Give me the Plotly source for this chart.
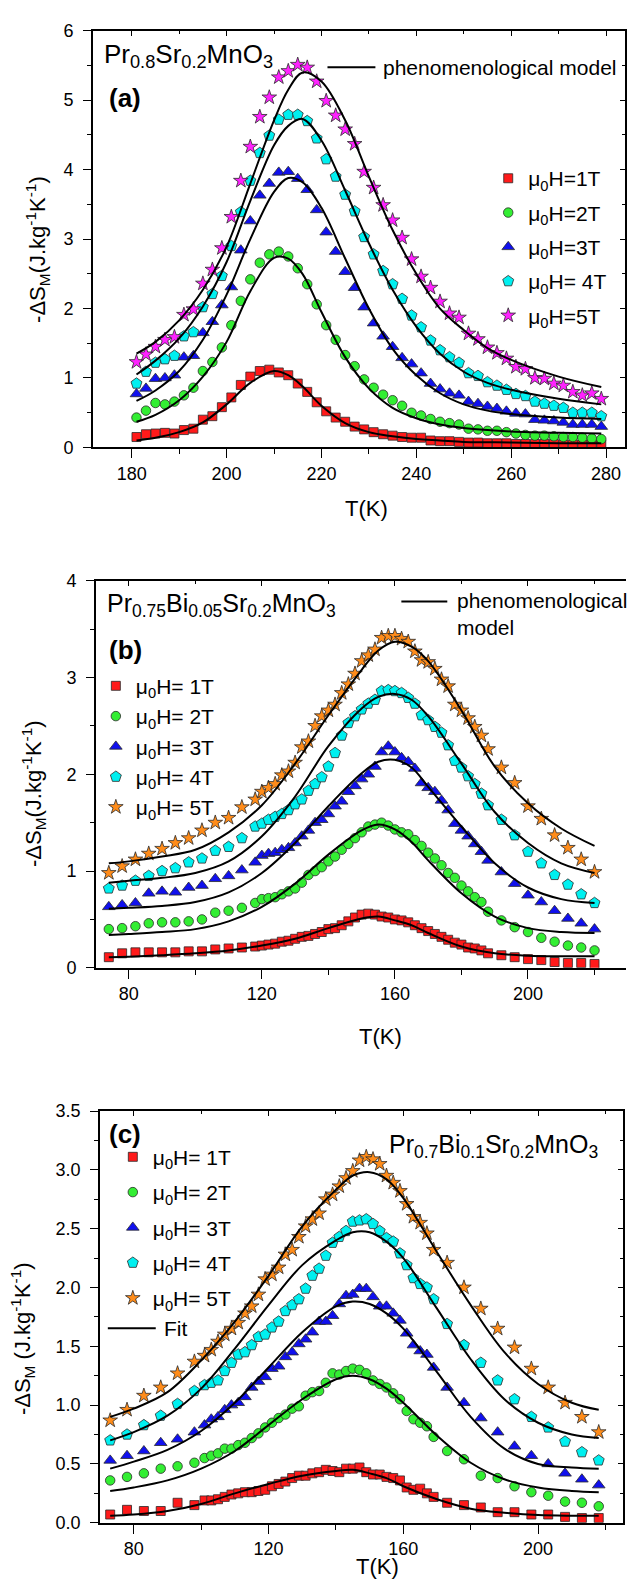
import plotly.graph_objects as go

W, H = 627, 1593
FONT = "Liberation Sans, Arial, sans-serif"

# ---------------- (a) Pr0.8Sr0.2MnO3 ----------------
a_T = [181, 183, 185, 187, 189, 191, 193, 195, 197, 199,
       201, 203, 205, 207, 209, 211, 213, 215, 217, 219,
       221, 223, 225, 227, 229, 231, 233, 235, 237, 239,
       241, 243, 245, 247, 249, 251, 253, 255, 257, 259,
       261, 263, 265, 267, 269, 271, 273, 275, 277, 279]
a_1T = [0.15, 0.19, 0.20, 0.21, 0.20, 0.25, 0.27, 0.40, 0.45, 0.58,
        0.72, 0.90, 1.02, 1.10, 1.12, 1.08, 1.04, 0.92, 0.80, 0.65,
        0.52, 0.43, 0.37, 0.30, 0.26, 0.22, 0.19, 0.17, 0.15, 0.14,
        0.14, 0.10, 0.09, 0.09, 0.08, 0.07, 0.07, 0.06, 0.06, 0.06,
        0.05, 0.05, 0.05, 0.05, 0.05, 0.04, 0.04, 0.04, 0.04, 0.04]
a_2T = [0.43, 0.53, 0.64, 0.62, 0.66, 0.75, 0.86, 1.10, 1.23, 1.44,
        1.76, 2.11, 2.42, 2.66, 2.78, 2.82, 2.75, 2.58, 2.35, 2.06,
        1.76, 1.55, 1.33, 1.17, 0.98, 0.86, 0.76, 0.68, 0.60, 0.50,
        0.46, 0.41, 0.37, 0.35, 0.33, 0.27, 0.26, 0.24, 0.24, 0.22,
        0.20, 0.18, 0.17, 0.17, 0.16, 0.15, 0.15, 0.14, 0.13, 0.12]
a_3T = [0.77, 0.85, 0.99, 1.00, 1.04, 1.30, 1.32, 1.65, 1.81, 2.05,
        2.31, 2.84, 3.26, 3.63, 3.80, 3.96, 3.97, 3.87, 3.71, 3.42,
        3.10, 2.82, 2.53, 2.30, 2.02, 1.79, 1.60, 1.45, 1.29, 1.20,
        1.07, 0.92, 0.84, 0.78, 0.75, 0.66, 0.63, 0.59, 0.56, 0.52,
        0.49, 0.48, 0.40, 0.39, 0.38, 0.36, 0.33, 0.33, 0.33, 0.30]
a_4T = [0.92, 1.09, 1.22, 1.27, 1.32, 1.60, 1.66, 2.02, 2.21, 2.47,
        2.90, 3.39, 3.84, 4.24, 4.49, 4.72, 4.79, 4.79, 4.70, 4.45,
        4.15, 3.90, 3.64, 3.40, 3.03, 2.78, 2.54, 2.35, 2.14, 1.90,
        1.73, 1.54, 1.40, 1.30, 1.22, 1.07, 1.03, 0.94, 0.89, 0.83,
        0.77, 0.74, 0.66, 0.63, 0.60, 0.57, 0.50, 0.50, 0.50, 0.45]
a_5T = [1.23, 1.34, 1.45, 1.55, 1.59, 1.91, 1.99, 2.36, 2.56, 2.87,
        3.32, 3.84, 4.33, 4.76, 5.04, 5.33, 5.42, 5.51, 5.47, 5.27,
        4.99, 4.78, 4.58, 4.37, 3.97, 3.74, 3.49, 3.27, 3.02, 2.71,
        2.46, 2.30, 2.10, 1.93, 1.87, 1.64, 1.56, 1.44, 1.36, 1.28,
        1.16, 1.13, 1.00, 0.99, 0.92, 0.89, 0.80, 0.75, 0.78, 0.70]

# phenomenological-model curves for (a)
a_fit_T = [181, 185, 190, 195, 200, 205, 210, 213, 216, 220,
           225, 230, 235, 240, 245, 250, 255, 260, 270, 279]
a_fit_1T = [0.10, 0.14, 0.22, 0.36, 0.62, 0.93, 1.10, 1.04, 0.88, 0.60,
            0.35, 0.22, 0.16, 0.12, 0.10, 0.08, 0.075, 0.07, 0.06, 0.06]
a_fit_2T = [0.37, 0.47, 0.68, 1.02, 1.52, 2.25, 2.73, 2.72, 2.50, 1.95,
            1.30, 0.85, 0.57, 0.42, 0.33, 0.28, 0.25, 0.23, 0.21, 0.20]
a_fit_3T = [0.67, 0.82, 1.10, 1.55, 2.20, 3.00, 3.68, 3.88, 3.82, 3.45,
            2.72, 2.00, 1.42, 1.04, 0.78, 0.62, 0.53, 0.48, 0.43, 0.41]
a_fit_4T = [1.05, 1.25, 1.57, 2.03, 2.67, 3.55, 4.35, 4.63, 4.73, 4.42,
            3.70, 2.94, 2.27, 1.74, 1.35, 1.09, 0.93, 0.83, 0.70, 0.62]
a_fit_5T = [1.35, 1.52, 1.83, 2.27, 2.89, 3.80, 4.71, 5.15, 5.40, 5.27,
            4.71, 3.90, 3.13, 2.50, 2.00, 1.69, 1.43, 1.26, 1.02, 0.87]

# ---------------- (b) Pr0.75Bi0.05Sr0.2MnO3 ----------------
b_T = [74, 78, 82, 86, 90, 94, 98, 102, 106, 110, 114, 118,
       120, 122, 124, 126, 128, 130, 132, 134, 136, 138, 140, 142,
       144, 146, 148, 150, 152, 154, 156, 158, 160, 162, 164, 166,
       168, 170, 172, 174, 176, 178, 180, 182, 184, 186,
       188, 192, 196, 200, 204, 208, 212, 216, 220]
b_1T = [0.11, 0.15, 0.16, 0.16, 0.16, 0.16, 0.17, 0.17, 0.19, 0.20, 0.21, 0.22,
        0.23, 0.24, 0.25, 0.27, 0.28, 0.30, 0.32, 0.33, 0.35, 0.37, 0.40, 0.41,
        0.44, 0.48, 0.52, 0.55, 0.56, 0.55, 0.53, 0.52, 0.50, 0.49, 0.47, 0.44,
        0.41, 0.38, 0.35, 0.32, 0.29, 0.26, 0.24, 0.21, 0.20, 0.18,
        0.15, 0.13, 0.11, 0.09, 0.08, 0.06, 0.05, 0.05, 0.04]
b_2T = [0.40, 0.41, 0.43, 0.46, 0.47, 0.47, 0.48, 0.50, 0.57, 0.59, 0.62, 0.67,
        0.71, 0.72, 0.73, 0.76, 0.79, 0.82, 0.88, 0.96, 1.00, 1.04, 1.10, 1.15,
        1.22, 1.28, 1.34, 1.40, 1.46, 1.48, 1.50, 1.47, 1.43, 1.40, 1.38, 1.32,
        1.26, 1.19, 1.13, 1.06, 0.98, 0.93, 0.85, 0.79, 0.73, 0.68,
        0.58, 0.49, 0.42, 0.37, 0.31, 0.27, 0.23, 0.21, 0.18]
b_3T = [0.63, 0.65, 0.67, 0.77, 0.79, 0.78, 0.83, 0.85, 0.92, 0.95, 1.01, 1.09,
        1.16, 1.18, 1.19, 1.22, 1.24, 1.29, 1.36, 1.42, 1.50, 1.53, 1.59, 1.67,
        1.72, 1.82, 1.88, 1.95, 2.00, 2.08, 2.23, 2.29, 2.23, 2.17, 2.13, 2.06,
        1.91, 1.86, 1.82, 1.73, 1.63, 1.49, 1.42, 1.36, 1.28, 1.20,
        1.11, 0.99, 0.87, 0.75, 0.68, 0.59, 0.51, 0.46, 0.40]
b_4T = [0.82, 0.85, 0.90, 0.95, 1.00, 1.03, 1.09, 1.13, 1.21, 1.25, 1.34, 1.46,
        1.49, 1.53, 1.56, 1.59, 1.63, 1.69, 1.74, 1.83, 1.90, 1.97, 2.08, 2.22,
        2.40, 2.53, 2.60, 2.67, 2.73, 2.77, 2.86, 2.87, 2.86, 2.84, 2.79, 2.73,
        2.61, 2.56, 2.49, 2.43, 2.30, 2.14, 2.07, 1.98, 1.90, 1.80,
        1.68, 1.53, 1.37, 1.20, 1.08, 0.96, 0.86, 0.76, 0.67]
b_5T = [0.98, 1.05, 1.12, 1.18, 1.23, 1.29, 1.34, 1.42, 1.50, 1.55, 1.66, 1.74,
        1.82, 1.86, 1.90, 1.99, 2.03, 2.12, 2.28, 2.34, 2.50, 2.60, 2.66, 2.72,
        2.84, 2.93, 3.04, 3.17, 3.23, 3.29, 3.41, 3.43, 3.43, 3.40, 3.37, 3.27,
        3.18, 3.16, 3.09, 2.98, 2.91, 2.72, 2.66, 2.58, 2.49, 2.40,
        2.26, 2.07, 1.91, 1.67, 1.54, 1.37, 1.24, 1.12, 0.99]

b_fit_T = [74, 80, 90, 100, 110, 120, 130, 140, 150, 155,
           160, 165, 170, 180, 190, 200, 210, 220]
b_fit_1T = [0.11, 0.115, 0.13, 0.15, 0.18, 0.23, 0.30, 0.41, 0.51, 0.53,
            0.49, 0.44, 0.36, 0.22, 0.15, 0.125, 0.12, 0.12]
b_fit_2T = [0.34, 0.35, 0.37, 0.40, 0.48, 0.63, 0.87, 1.17, 1.42, 1.48,
            1.43, 1.30, 1.11, 0.77, 0.53, 0.41, 0.37, 0.36]
b_fit_3T = [0.61, 0.62, 0.64, 0.68, 0.78, 0.98, 1.29, 1.67, 2.01, 2.13,
            2.15, 2.07, 1.87, 1.46, 1.08, 0.83, 0.71, 0.67]
b_fit_4T = [0.88, 0.90, 0.93, 0.98, 1.10, 1.36, 1.77, 2.29, 2.68, 2.80,
            2.83, 2.77, 2.60, 2.11, 1.61, 1.29, 1.08, 0.98]
b_fit_5T = [1.08, 1.10, 1.15, 1.22, 1.40, 1.68, 2.11, 2.61, 3.08, 3.28,
            3.37, 3.32, 3.17, 2.66, 2.08, 1.70, 1.44, 1.26]

# ---------------- (c) Pr0.7Bi0.1Sr0.2MnO3 ----------------
c_T = [73, 78, 83, 88, 93, 98,
       101, 103, 105, 107, 109, 111, 113, 115, 117, 119, 121, 123, 125, 127,
       129, 131, 133, 135, 137, 139, 141, 143, 145, 147, 149, 151, 153, 155,
       157, 159, 161, 163, 165, 167, 169,
       173, 178, 183, 188, 193, 198, 203, 208, 213, 218]
c_1T = [0.07, 0.11, 0.10, 0.10, 0.17, 0.15,
        0.19, 0.19, 0.20, 0.22, 0.24, 0.25, 0.26, 0.26, 0.27, 0.28, 0.31, 0.33, 0.35, 0.38,
        0.40, 0.40, 0.42, 0.43, 0.45, 0.44, 0.43, 0.46, 0.46, 0.47, 0.43, 0.41, 0.41, 0.39,
        0.38, 0.36, 0.30, 0.28, 0.29, 0.25, 0.22,
        0.17, 0.15, 0.13, 0.09, 0.09, 0.07, 0.07, 0.05, 0.04, 0.04]
c_2T = [0.36, 0.39, 0.42, 0.46, 0.48, 0.51,
        0.55, 0.57, 0.59, 0.63, 0.63, 0.66, 0.68, 0.72, 0.76, 0.81, 0.85, 0.89, 0.92, 0.97,
        0.99, 1.08, 1.11, 1.12, 1.19, 1.27, 1.26, 1.29, 1.31, 1.30, 1.27, 1.21, 1.18, 1.15,
        1.10, 1.05, 0.95, 0.88, 0.85, 0.82, 0.73,
        0.61, 0.54, 0.40, 0.38, 0.31, 0.26, 0.23, 0.18, 0.17, 0.14]
c_3T = [0.53, 0.57, 0.61, 0.68, 0.71, 0.77,
        0.83, 0.88, 0.90, 0.96, 1.00, 1.02, 1.07, 1.15, 1.20, 1.24, 1.31, 1.33, 1.41, 1.45,
        1.52, 1.56, 1.62, 1.71, 1.71, 1.76, 1.86, 1.93, 1.94, 1.99, 1.99, 1.92, 1.84, 1.84,
        1.78, 1.72, 1.61, 1.51, 1.46, 1.43, 1.32,
        1.15, 1.02, 0.89, 0.77, 0.65, 0.57, 0.50, 0.42, 0.37, 0.32]
c_4T = [0.70, 0.75, 0.83, 0.91, 1.01, 1.12,
        1.17, 1.19, 1.21, 1.29, 1.36, 1.43, 1.45, 1.51, 1.58, 1.60, 1.66, 1.71, 1.80, 1.85,
        1.90, 1.99, 2.10, 2.16, 2.27, 2.38, 2.43, 2.48, 2.56, 2.57, 2.58, 2.54, 2.48, 2.42,
        2.39, 2.29, 2.19, 2.08, 2.03, 2.00, 1.90,
        1.69, 1.51, 1.36, 1.21, 1.05, 0.90, 0.81, 0.69, 0.60, 0.53]
c_5T = [0.87, 0.96, 1.08, 1.15, 1.27, 1.37,
        1.42, 1.47, 1.54, 1.60, 1.65, 1.70, 1.78, 1.84, 1.94, 2.07, 2.11, 2.17, 2.28, 2.32,
        2.43, 2.52, 2.58, 2.63, 2.75, 2.79, 2.86, 2.93, 2.99, 3.08, 3.11, 3.09, 3.05, 2.95,
        2.89, 2.82, 2.71, 2.60, 2.55, 2.46, 2.32,
        2.21, 2.00, 1.82, 1.65, 1.49, 1.31, 1.15, 1.02, 0.90, 0.77]

c_fit_T = [73, 80, 90, 100, 110, 120, 130, 140, 145, 150,
           155, 160, 170, 180, 190, 200, 210, 218]
c_fit_1T = [0.06, 0.07, 0.10, 0.16, 0.25, 0.33, 0.40, 0.44, 0.45, 0.42,
            0.38, 0.31, 0.20, 0.12, 0.085, 0.065, 0.06, 0.06]
c_fit_2T = [0.27, 0.30, 0.36, 0.46, 0.61, 0.83, 1.05, 1.22, 1.25, 1.22,
            1.14, 1.02, 0.74, 0.51, 0.37, 0.30, 0.27, 0.26]
c_fit_3T = [0.46, 0.52, 0.62, 0.78, 1.02, 1.32, 1.62, 1.84, 1.88, 1.86,
            1.78, 1.65, 1.28, 0.90, 0.63, 0.50, 0.47, 0.46]
c_fit_4T = [0.70, 0.77, 0.91, 1.14, 1.48, 1.85, 2.19, 2.40, 2.47, 2.47,
            2.39, 2.25, 1.82, 1.39, 1.05, 0.85, 0.75, 0.72]
c_fit_5T = [0.90, 0.97, 1.11, 1.38, 1.71, 2.10, 2.52, 2.83, 2.95, 2.98,
            2.92, 2.76, 2.30, 1.85, 1.45, 1.18, 1.02, 0.96]

# ---------------- styling ----------------
RED, GREEN, BLUE, CYAN = "#ff1a1a", "#33ee33", "#1010ee", "#00f0f0"
MAGENTA, ORANGE = "#ff22ff", "#ff8c1a"
EDGE = "#2a2a2a"

def px_x(p):
    return p / W

def px_y(p):
    return 1 - p / H

fig = go.Figure()

def add_markers(xs, ys, color, symbol, size, name, xa, ya, legend):
    fig.add_trace(go.Scatter(
        x=xs, y=ys, mode="markers", name=name, xaxis=xa, yaxis=ya,
        legend=legend, legendgroup=legend + name,
        marker=dict(color=color, symbol=symbol, size=size,
                    line=dict(color=EDGE, width=0.8)),
        hoverinfo="x+y"))

def add_fit(xs, ys, xa, ya):
    fig.add_trace(go.Scatter(
        x=xs, y=ys, mode="lines", xaxis=xa, yaxis=ya, showlegend=False,
        line=dict(color="black", width=2, shape="spline", smoothing=1.0),
        hoverinfo="skip"))

def lbl(n, gap=""):
    return "\u03bc<sub>0</sub>H=" + gap + str(n) + "T"

SQ, CI, TR, PE, ST = 9, 9.5, 11, 11.5, 11

# panel (a)
a_sets = [(a_1T, RED, "square", SQ, lbl(1)), (a_2T, GREEN, "circle", CI, lbl(2)),
          (a_3T, BLUE, "triangle-up", TR, lbl(3)), (a_4T, CYAN, "pentagon", PE, lbl(4, " ")),
          (a_5T, MAGENTA, "star", ST, lbl(5))]
for ys, col, sym, sz, nm in a_sets:
    add_markers(a_T, ys, col, sym, sz, nm, "x", "y", "legend")
for ys in [a_fit_1T, a_fit_2T, a_fit_3T, a_fit_4T, a_fit_5T]:
    add_fit(a_fit_T, ys, "x", "y")

# panel (b)
b_sets = [(b_1T, RED, "square", SQ, lbl(1, " ")), (b_2T, GREEN, "circle", CI, lbl(2, " ")),
          (b_3T, BLUE, "triangle-up", TR, lbl(3, " ")), (b_4T, CYAN, "pentagon", PE, lbl(4, " ")),
          (b_5T, ORANGE, "star", ST, lbl(5, " "))]
for ys, col, sym, sz, nm in b_sets:
    add_markers(b_T, ys, col, sym, sz, nm, "x2", "y2", "legend2")
for ys in [b_fit_1T, b_fit_2T, b_fit_3T, b_fit_4T, b_fit_5T]:
    add_fit(b_fit_T, ys, "x2", "y2")

# panel (c)
c_sets = [(c_1T, RED, "square", SQ, lbl(1, " ")), (c_2T, GREEN, "circle", CI, lbl(2, " ")),
          (c_3T, BLUE, "triangle-up", TR, lbl(3, " ")), (c_4T, CYAN, "pentagon", PE, lbl(4, " ")),
          (c_5T, ORANGE, "star", ST, lbl(5, " "))]
for ys, col, sym, sz, nm in c_sets:
    add_markers(c_T, ys, col, sym, sz, nm, "x3", "y3", "legend3")
for ys in [c_fit_1T, c_fit_2T, c_fit_3T, c_fit_4T, c_fit_5T]:
    add_fit(c_fit_T, ys, "x3", "y3")

# empty traces that bind the inner-tick frame axes
for xa, ya in [("x4", "y4"), ("x5", "y2"), ("x6", "y5")]:
    fig.add_trace(go.Scatter(x=[None], y=[None], xaxis=xa, yaxis=ya,
                             showlegend=False, hoverinfo="skip"))

TICKFONT = dict(family=FONT, size=18, color="black")

def x_main(dom, rng, dtick, minor, anchor):
    return dict(domain=dom, range=rng, anchor=anchor, showline=True, linecolor="black",
                linewidth=1.6, mirror=True, ticks="outside", ticklen=9, tickwidth=1.4,
                tickcolor="black", dtick=dtick, tick0=0, tickfont=TICKFONT,
                showgrid=False, zeroline=False,
                minor=dict(ticks="outside", ticklen=5, tickwidth=1.2, tickcolor="black",
                           dtick=minor, tick0=0, showgrid=False))

def y_main(dom, rng, dtick, minor, anchor, fmt, mirror):
    return dict(domain=dom, range=rng, anchor=anchor, showline=True, linecolor="black",
                linewidth=1.6, mirror=mirror, ticks="outside", ticklen=8, tickwidth=1.4,
                tickcolor="black", dtick=dtick, tick0=0, tickformat=fmt, tickfont=TICKFONT,
                ticklabelstandoff=6, showgrid=False, zeroline=False,
                minor=dict(ticks="outside", ticklen=4, tickwidth=1.2, tickcolor="black",
                           dtick=minor, tick0=0, showgrid=False))

def x_top(over, anchor, rng, dtick, minor):
    return dict(overlaying=over, side="top", anchor=anchor, range=rng, showline=False,
                ticks="inside", ticklen=5, tickwidth=1.2, tickcolor="black", dtick=dtick,
                tick0=0, showticklabels=False, showgrid=False, zeroline=False,
                minor=dict(ticks="inside", ticklen=3, tickwidth=1, tickcolor="black",
                           dtick=minor, tick0=0, showgrid=False))

def y_right(over, anchor, rng, dtick, minor):
    return dict(overlaying=over, side="right", anchor=anchor, range=rng, showline=False,
                ticks="inside", ticklen=5, tickwidth=1.2, tickcolor="black", dtick=dtick,
                tick0=0, showticklabels=False, showgrid=False, zeroline=False,
                minor=dict(ticks="inside", ticklen=3, tickwidth=1, tickcolor="black",
                           dtick=minor, tick0=0, showgrid=False))

a_xr, a_yr = [171.8, 284.0], [0, 6]
b_xr, b_yr = [70.1, 229.46], [0, 4]
c_xr, c_yr = [69.93, 225.2], [0, 3.5]

a_xd, a_yd = [px_x(93), px_x(626)], [px_y(443), px_y(21)]
b_xd, b_yd = [px_x(96), 1.0], [px_y(970), px_y(578)]
c_xd, c_yd = [px_x(100), px_x(624)], [px_y(1532), px_y(1115)]

LEG = dict(bgcolor="rgba(0,0,0,0)", borderwidth=0, xanchor="left", yanchor="top",
           font=dict(family=FONT, size=21, color="black"), itemsizing="trace")

fig.update_layout(
    width=W, height=H, margin=dict(l=0, r=0, t=0, b=0),
    paper_bgcolor="white", plot_bgcolor="white",
    font=dict(family=FONT, color="black"),
    xaxis=x_main(a_xd, a_xr, 20, 10, "y"),
    yaxis=y_main(a_yd, a_yr, 1, 0.5, "x", "d", True),
    xaxis2=x_main(b_xd, b_xr, 40, 20, "y2"),
    yaxis2=y_main(b_yd, b_yr, 1, 0.5, "x2", "d", False),
    xaxis3=x_main(c_xd, c_xr, 40, 20, "y3"),
    yaxis3=y_main(c_yd, c_yr, 0.5, 0.25, "x3", ".1f", True),
    xaxis4=x_top("x", "y", a_xr, 20, 10),
    yaxis4=y_right("y", "x", a_yr, 1, 0.5),
    xaxis5=x_top("x2", "y2", b_xr, 40, 20),
    xaxis6=x_top("x3", "y3", c_xr, 40, 20),
    yaxis5=y_right("y3", "x3", c_yr, 0.5, 0.25),
    legend=dict(LEG, x=px_x(489), y=px_y(150), tracegroupgap=4),
    legend2=dict(LEG, x=px_x(96), y=px_y(664), tracegroupgap=0),
    legend3=dict(LEG, x=px_x(113), y=px_y(1141), tracegroupgap=5),
)

ann = []

def text(x, y, s, size=21, xanchor="left", yanchor="middle", bold=False, angle=0,
         align="left"):
    ann.append(dict(x=px_x(x), y=px_y(y), xref="paper", yref="paper", text=s,
                    showarrow=False, xanchor=xanchor, yanchor=yanchor, textangle=angle,
                    align=align,
                    font=dict(family=FONT, size=size, color="black",
                              weight="bold" if bold else "normal")))

YT = "-\u0394S<sub>M</sub>(J.kg<sup>-1</sup>K<sup>-1</sup>)"
YT_C = "-\u0394S<sub>M</sub> (J.kg<sup>-1</sup>K<sup>-1</sup>)"

# panel (a) texts
text(102, 46, "Pr<sub>0.8</sub>Sr<sub>0.2</sub>MnO<sub>3</sub>", size=26)
text(107, 89, "(a)", size=26, bold=True)
text(382, 58, "phenomenological model", size=21)
text(367, 505, "T(K)", size=22, xanchor="center")
text(38, 242, YT, size=22, xanchor="center", angle=-90)

# panel (b) texts
text(105, 603, "Pr<sub>0.75</sub>Bi<sub>0.05</sub>Sr<sub>0.2</sub>MnO<sub>3</sub>", size=25)
text(107, 648, "(b)", size=26, bold=True)
text(456, 612, "phenomenological<br>model", size=21)
text(381, 1040, "T(K)", size=22, xanchor="center")
text(33, 793, YT, size=22, xanchor="center", angle=-90)

# panel (c) texts
text(107, 1138, "(c)", size=26, bold=True)
text(601, 1150, "Pr<sub>0.7</sub>Bi<sub>0.1</sub>Sr<sub>0.2</sub>MnO<sub>3</sub>", size=25,
     xanchor="right")
text(162, 1335, "Fit", size=21)
text(378, 1576, "T(K)", size=22, xanchor="center")
text(22, 1345, YT_C, size=22, xanchor="center", angle=-90)

fig.update_layout(annotations=ann)

# legend keys for the model curves
for x0, x1, y in [(328, 376, 58), (402, 448, 599), (108, 156, 1335)]:
    fig.add_shape(type="line", xref="paper", yref="paper",
                  x0=px_x(x0), x1=px_x(x1), y0=px_y(y), y1=px_y(y),
                  line=dict(color="black", width=2))

fig.write_html("out.html")
